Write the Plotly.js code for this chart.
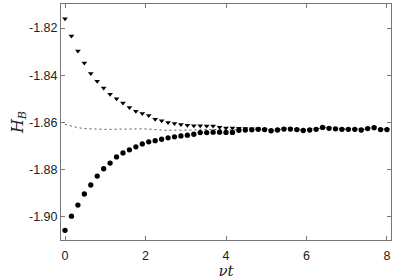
<!DOCTYPE html>
<html><head><meta charset="utf-8">
<script src="https://cdn.plot.ly/plotly-3.0.1.min.js"></script>
<style>html,body{margin:0;padding:0;background:#fff}#chart{width:407px;height:280px}</style>
</head><body><div id="chart"></div>
<script>
const t = [0,0.16,0.32,0.48,0.64,0.8,0.96,1.12,1.28,1.44,1.6,1.76,1.92,2.08,2.24,2.4,2.56,2.72,2.88,3.04,3.2,3.36,3.52,3.68,3.84,4.0,4.16,4.32,4.48,4.64,4.8,4.96,5.12,5.28,5.44,5.6,5.76,5.92,6.08,6.24,6.4,6.56,6.72,6.88,7.04,7.2,7.36,7.52,7.68,7.84,8.0];
const hbTriangles = [-1.8160,-1.8234,-1.8297,-1.8348,-1.8393,-1.8425,-1.8454,-1.8480,-1.8499,-1.8517,-1.8537,-1.8552,-1.8562,-1.8570,-1.8586,-1.8593,-1.8600,-1.8604,-1.8609,-1.8612,-1.8614,-1.8614,-1.8615,-1.8615,-1.8620,-1.8623,-1.8623,-1.8624,-1.8626,-1.8627,-1.8627,-1.8630,-1.8635,-1.8632,-1.8628,-1.8628,-1.8630,-1.8634,-1.8632,-1.8629,-1.8621,-1.8625,-1.8627,-1.8629,-1.8629,-1.8629,-1.8632,-1.8626,-1.8622,-1.8630,-1.8630];
const hbCircles = [-1.9057,-1.8997,-1.8950,-1.8903,-1.8865,-1.8827,-1.8796,-1.8772,-1.8746,-1.8729,-1.8716,-1.8703,-1.8691,-1.8682,-1.8677,-1.8671,-1.8665,-1.8661,-1.8657,-1.8654,-1.8650,-1.8643,-1.8643,-1.8641,-1.8641,-1.8642,-1.8642,-1.8633,-1.8632,-1.8631,-1.8629,-1.8630,-1.8635,-1.8632,-1.8628,-1.8628,-1.8630,-1.8634,-1.8632,-1.8629,-1.8621,-1.8625,-1.8627,-1.8629,-1.8629,-1.8629,-1.8632,-1.8626,-1.8622,-1.8630,-1.8630];
const hbMean = [-1.8608,-1.8616,-1.8622,-1.8626,-1.8628,-1.8629,-1.8629,-1.8629,-1.8628,-1.8628,-1.8628,-1.8627,-1.8627,-1.8628,-1.8631,-1.8632,-1.8633,-1.8633,-1.8633,-1.8633,-1.8632,-1.8629,-1.8629,-1.8628,-1.8630,-1.8632,-1.8632,-1.8629,-1.8629,-1.8629,-1.8628,-1.8630,-1.8635,-1.8632,-1.8628,-1.8628,-1.8630,-1.8634,-1.8632,-1.8629,-1.8621,-1.8625,-1.8627,-1.8629,-1.8629,-1.8629,-1.8632,-1.8626,-1.8622,-1.8630,-1.8630];
const xTickVals = [0,2,4,6,8];
const xTickText = ['0','2','4','6','8'];
const yTickVals = [-1.82,-1.84,-1.86,-1.88,-1.90];
const yTickText = ['-1.82','-1.84','-1.86','-1.88','-1.90'];

const traces = [
  {x:t, y:hbMean, mode:'lines', line:{color:'#444', width:0.9, dash:'2px,3px'}, hoverinfo:'skip'},
  {x:t, y:hbTriangles, mode:'markers', marker:{symbol:'triangle-down', size:5, color:'#000'}},
  {x:t, y:hbCircles, mode:'markers', marker:{symbol:'circle', size:5.3, color:'#000'}}
];
const axisCommon = {showgrid:false, zeroline:false, showline:true, linecolor:'#777', linewidth:1, mirror:'ticks', ticks:'inside', ticklen:4, tickcolor:'#777', tickfont:{family:'Liberation Sans, Arial, sans-serif', size:12.5, color:'#222'}};
const layout = {
  width:407, height:280, margin:{l:61, r:16, t:4, b:40},
  paper_bgcolor:'#fff', plot_bgcolor:'#fff', showlegend:false,
  xaxis: Object.assign({}, axisCommon, {range:[-0.1,8.1], tickvals:xTickVals, ticktext:xTickText, ticklabelstandoff:4,
    title:{text:'<i>νt</i>', font:{family:'DejaVu Serif, serif', size:15, color:'#222'}, standoff:3}}),
  yaxis: Object.assign({}, axisCommon, {range:[-1.9098,-1.8098], tickvals:yTickVals, ticktext:yTickText,
    title:{text:'<i>H</i><sub><i>B</i></sub>', font:{family:'DejaVu Serif, serif', size:16, color:'#222'}, standoff:0}})
};
Plotly.newPlot('chart', traces, layout, {staticPlot:true, displayModeBar:false});
</script></body></html>
